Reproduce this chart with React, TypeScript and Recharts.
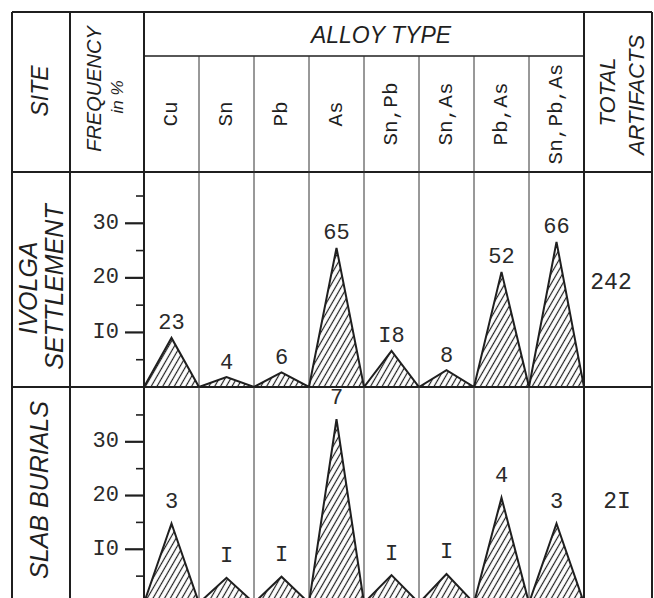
import React from 'react';
import { AreaChart, Area, XAxis, YAxis, LabelList } from 'recharts';

// alloy categories and values
const alloyTypes = ['Cu', 'Sn', 'Pb', 'As', 'Sn,Pb', 'Sn,As', 'Pb,As', 'Sn,Pb,As'];

const ivolgaFreq = [9.0, 1.8, 2.7, 25.5, 6.6, 3.1, 21.1, 26.6];
const ivolgaCounts = ['23', '4', '6', '65', 'I8', '8', '52', '66'];
const ivolgaTotal = '242';

const slabFreq = [14.8, 4.7, 4.9, 34.2, 5.2, 5.4, 19.6, 14.8];
const slabCounts = ['3', 'I', 'I', '7', 'I', 'I', '4', '3'];
const slabTotal = '2I';

const yTicks = [5, 10, 15, 20, 25, 30, 35];
const yTickLabels: Record<number, string> = { 10: 'I0', 20: '20', 30: '30' };

// table layout
const LEFT = 12;
const X_FREQ = 70;
const X_PLOT = 144;
const COL_W = 55;
const X_TOTAL = X_PLOT + COL_W * alloyTypes.length;
const RIGHT = 652;
const TOP = 12;
const Y_ALLOY = 56;
const Y_HEAD = 172;
const Y_ROW1 = 387;

const INK = '#1f1f1f';
const SANS = '"Liberation Sans", Arial, sans-serif';
const MONO = '"Liberation Mono", "DejaVu Sans Mono", monospace';

// frequency polygon: zero at every column edge, peak at column centre
const buildPolygon = (freq: number[], counts: string[]) => {
  const pts: { x: number; v: number; label?: string }[] = [];
  freq.forEach((f, i) => {
    pts.push({ x: i, v: 0 });
    pts.push({ x: i + 0.5, v: f, label: counts[i] });
  });
  pts.push({ x: freq.length, v: 0 });
  return pts;
};

const renderTick = (props: any) => {
  const { x, y, payload } = props;
  const major = payload.value % 10 === 0;
  return (
    <g>
      <line x1={x - (major ? 19 : 8)} x2={x} y1={y} y2={y} stroke={INK} strokeWidth={major ? 2.2 : 1.6} />
      {major && (
        <text
          x={x - 25}
          y={y}
          textAnchor="end"
          dominantBaseline="central"
          fontFamily={MONO}
          fontSize={22}
          fill="#2a2a2a"
        >
          {yTickLabels[payload.value]}
        </text>
      )}
    </g>
  );
};

const countLabel = (offset: number) => (p: any) => {
  if (p.value == null || p.value === '') return null;
  const x = p.x ?? p.viewBox?.x;
  const y = p.y ?? p.viewBox?.y;
  return (
    <text
      x={x}
      y={y - offset}
      textAnchor="middle"
      dominantBaseline="central"
      fontFamily={MONO}
      fontSize={22}
      fill="#2a2a2a"
    >
      {p.value}
    </text>
  );
};

interface RowChartProps {
  id: string;
  freq: number[];
  counts: string[];
  top: number;
  height: number;
  yMax: number;
  labelOffset: number;
}

const RowChart: React.FC<RowChartProps> = ({ id, freq, counts, top, height, yMax, labelOffset }) => {
  const data = buildPolygon(freq, counts);
  return (
    <div style={{ position: 'absolute', left: X_FREQ, top }}>
      <AreaChart
        width={X_TOTAL - X_FREQ}
        height={height}
        data={data}
        margin={{ top: 0, right: 0, bottom: 0, left: 0 }}
        style={{ overflow: 'visible' }}
      >
        <defs>
          <pattern
            id={id}
            patternUnits="userSpaceOnUse"
            width={5}
            height={5}
            patternTransform="rotate(30)"
          >
            <line x1={2.5} y1={0} x2={2.5} y2={5} stroke={INK} strokeWidth={1.2} />
          </pattern>
        </defs>
        <XAxis dataKey="x" type="number" domain={[0, alloyTypes.length]} hide height={0} />
        <YAxis
          type="number"
          domain={[0, yMax]}
          ticks={yTicks}
          interval={0}
          width={X_PLOT - X_FREQ}
          axisLine={false}
          tickLine={false}
          tickSize={0}
          tickMargin={0}
          tick={renderTick}
        />
        <Area
          type="linear"
          dataKey="v"
          baseValue={0}
          stroke={INK}
          strokeWidth={2}
          fill={`url(#${id})`}
          fillOpacity={1}
          dot={false}
          activeDot={false}
          isAnimationActive={false}
        >
          <LabelList dataKey="label" content={countLabel(labelOffset)} />
        </Area>
      </AreaChart>
    </div>
  );
};

const Rotated: React.FC<{ x: number; y: number; size: number; font?: string; italic?: boolean; children: React.ReactNode }> = ({
  x,
  y,
  size,
  font = SANS,
  italic = true,
  children,
}) => (
  <text
    x={x}
    y={y}
    transform={`rotate(-90 ${x} ${y})`}
    textAnchor="middle"
    dominantBaseline="central"
    fontFamily={font}
    fontStyle={italic ? 'italic' : 'normal'}
    fontSize={size}
    fill={INK}
  >
    {children}
  </text>
);

export default function App() {
  const colEdges = alloyTypes.map((_, i) => X_PLOT + COL_W * i);
  return (
    <div
      style={{
        position: 'fixed',
        left: 0,
        top: 0,
        width: 654,
        height: 598,
        overflow: 'hidden',
        background: '#fff',
      }}
    >
      <svg width={654} height={598} style={{ position: 'absolute', left: 0, top: 0 }}>
        {/* outer frame and main separators */}
        <g stroke={INK} strokeWidth={2}>
          <line x1={LEFT} y1={TOP} x2={RIGHT} y2={TOP} />
          <line x1={LEFT} y1={TOP} x2={LEFT} y2={598} />
          <line x1={RIGHT} y1={TOP} x2={RIGHT} y2={598} />
          <line x1={X_FREQ} y1={TOP} x2={X_FREQ} y2={598} />
          <line x1={X_PLOT} y1={TOP} x2={X_PLOT} y2={598} />
          <line x1={X_TOTAL} y1={TOP} x2={X_TOTAL} y2={598} />
          <line x1={LEFT} y1={Y_HEAD} x2={RIGHT} y2={Y_HEAD} />
          <line x1={LEFT} y1={Y_ROW1} x2={RIGHT} y2={Y_ROW1} />
          <line x1={X_PLOT} y1={Y_ALLOY} x2={X_TOTAL} y2={Y_ALLOY} strokeWidth={1.6} />
        </g>
        <g stroke="#333" strokeWidth={1}>
          {colEdges.slice(1).map((cx) => (
            <line key={cx} x1={cx} y1={Y_ALLOY} x2={cx} y2={598} />
          ))}
        </g>

        {/* header */}
        <Rotated x={40} y={91} size={23}>SITE</Rotated>
        <Rotated x={94} y={89} size={20}>FREQUENCY</Rotated>
        <Rotated x={117} y={97} size={17}>in %</Rotated>
        <text x={381} y={35} textAnchor="middle" dominantBaseline="central" fontFamily={SANS} fontStyle="italic" fontSize={23} fill={INK}>
          ALLOY TYPE
        </text>
        {alloyTypes.map((t, i) => (
          <Rotated key={t} x={colEdges[i] + COL_W / 2} y={114} size={21} font={MONO} italic={false}>
            {t}
          </Rotated>
        ))}
        <Rotated x={607} y={92} size={22}>TOTAL</Rotated>
        <Rotated x={636} y={95} size={22}>ARTIFACTS</Rotated>

        {/* site names */}
        <Rotated x={28} y={288} size={25}>IVOLGA</Rotated>
        <Rotated x={54} y={287} size={25}>SETTLEMENT</Rotated>
        <Rotated x={39} y={490} size={25}>SLAB BURIALS</Rotated>

        {/* totals */}
        <text x={611} y={283} textAnchor="middle" dominantBaseline="central" fontFamily={MONO} fontSize={23} fill="#2a2a2a">
          {ivolgaTotal}
        </text>
        <text x={617} y={502} textAnchor="middle" dominantBaseline="central" fontFamily={MONO} fontSize={23} fill="#2a2a2a">
          {slabTotal}
        </text>
      </svg>

      <RowChart id="hatch-ivolga" freq={ivolgaFreq} counts={ivolgaCounts} top={Y_HEAD} height={215} yMax={39.4} labelOffset={14} />
      <RowChart id="hatch-slab" freq={slabFreq} counts={slabCounts} top={Y_ROW1} height={216} yMax={40.2} labelOffset={21} />
    </div>
  );
}
